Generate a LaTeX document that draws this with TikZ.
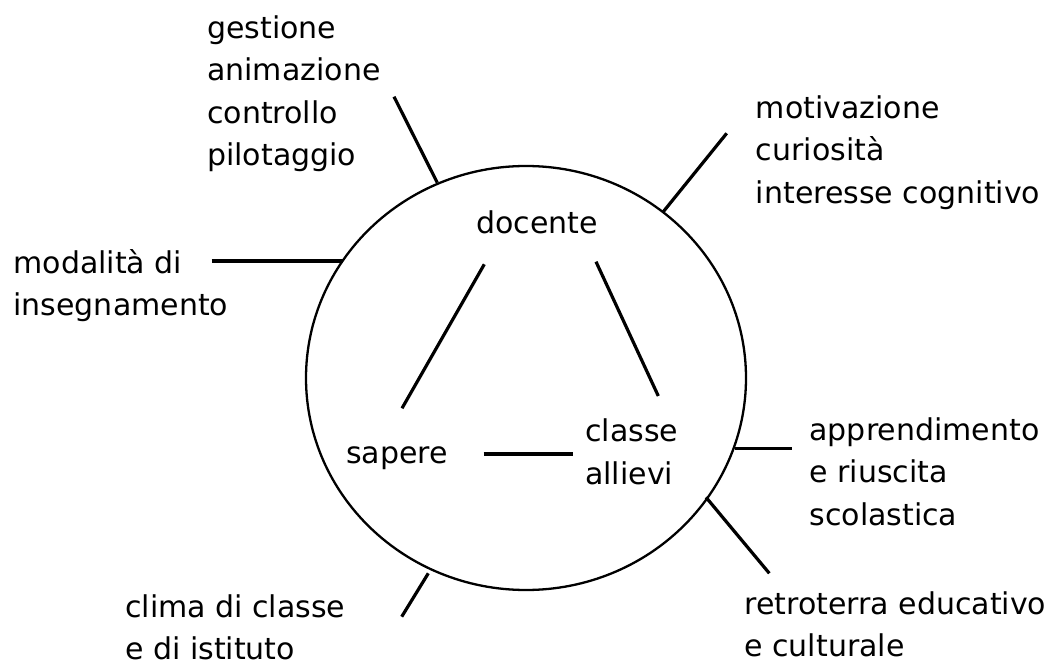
\documentclass[tikz,border=0pt]{standalone}
\usepackage{fontspec}
\setmainfont{DejaVu Sans}
\newcommand{\mlines}[1]{\begin{tabular}[t]{@{}l@{}}#1\end{tabular}}
\begin{document}
\begin{tikzpicture}[x=1pt,y=-1pt,
  lbl/.style={anchor=base west, inner sep=0pt, font=\fontsize{30}{42.5}\selectfont},
  conn/.style={line width=3.2pt},
  ring/.style={line width=2.3pt}]
\useasboundingbox (0,0) rectangle (1060,660);
% circle
\draw[ring] (526,378) ellipse [x radius=220pt, y radius=212pt];
% inner labels
\node[lbl] (docente) at (476,233.3) {docente};
\node[lbl] (sapere) at (346,463.3) {sapere};
\node[lbl] (classe) at (585,441.7) {\mlines{classe\\allievi}};
% outer labels
\node[lbl] (gestione) at (207,38.5) {\mlines{gestione\\animazione\\controllo\\pilotaggio}};
\node[lbl] (motivazione) at (755.7,118.3) {\mlines{motivazione\\curiosità\\interesse cognitivo}};
\node[lbl] (modalita) at (13.3,273.3) {\mlines{modalità di\\insegnamento}};
\node[lbl] (apprendimento) at (809.3,440) {\mlines{apprendimento\\e riuscita\\scolastica}};
\node[lbl] (retroterra) at (744.3,614) {\mlines{retroterra educativo\\e culturale}};
\node[lbl] (clima) at (125,617.3) {\mlines{clima di classe\\e di istituto}};
% connector end points
\coordinate (ds1) at (484.3,264.3);
\coordinate (ds2) at (402,408.3);
\coordinate (dc1) at (596,261.7);
\coordinate (dc2) at (658.3,396);
\coordinate (sc1) at (483.7,454);
\coordinate (sc2) at (573.3,454);
\coordinate (ge1) at (394,96.7);
\coordinate (ge2) at (437.3,182.7);
\coordinate (mo1) at (726.7,133.3);
\coordinate (mo2) at (663.3,211.7);
\coordinate (md1) at (211.7,261);
\coordinate (md2) at (343.3,261);
\coordinate (ap1) at (791.7,448.3);
\coordinate (ap2) at (735,448.3);
\coordinate (re1) at (769.3,573.3);
\coordinate (re2) at (706,497.3);
\coordinate (cl1) at (401.7,616.7);
\coordinate (cl2) at (428.3,573.3);
% connectors
\draw[conn] (ds1) -- (ds2);
\draw[conn] (dc1) -- (dc2);
\draw[conn] (sc1) -- (sc2);
\draw[conn] (ge1) -- (ge2);
\draw[conn] (mo1) -- (mo2);
\draw[conn] (md1) -- (md2);
\draw[conn] (ap1) -- (ap2);
\draw[conn] (re1) -- (re2);
\draw[conn] (cl1) -- (cl2);
\end{tikzpicture}
\end{document}
